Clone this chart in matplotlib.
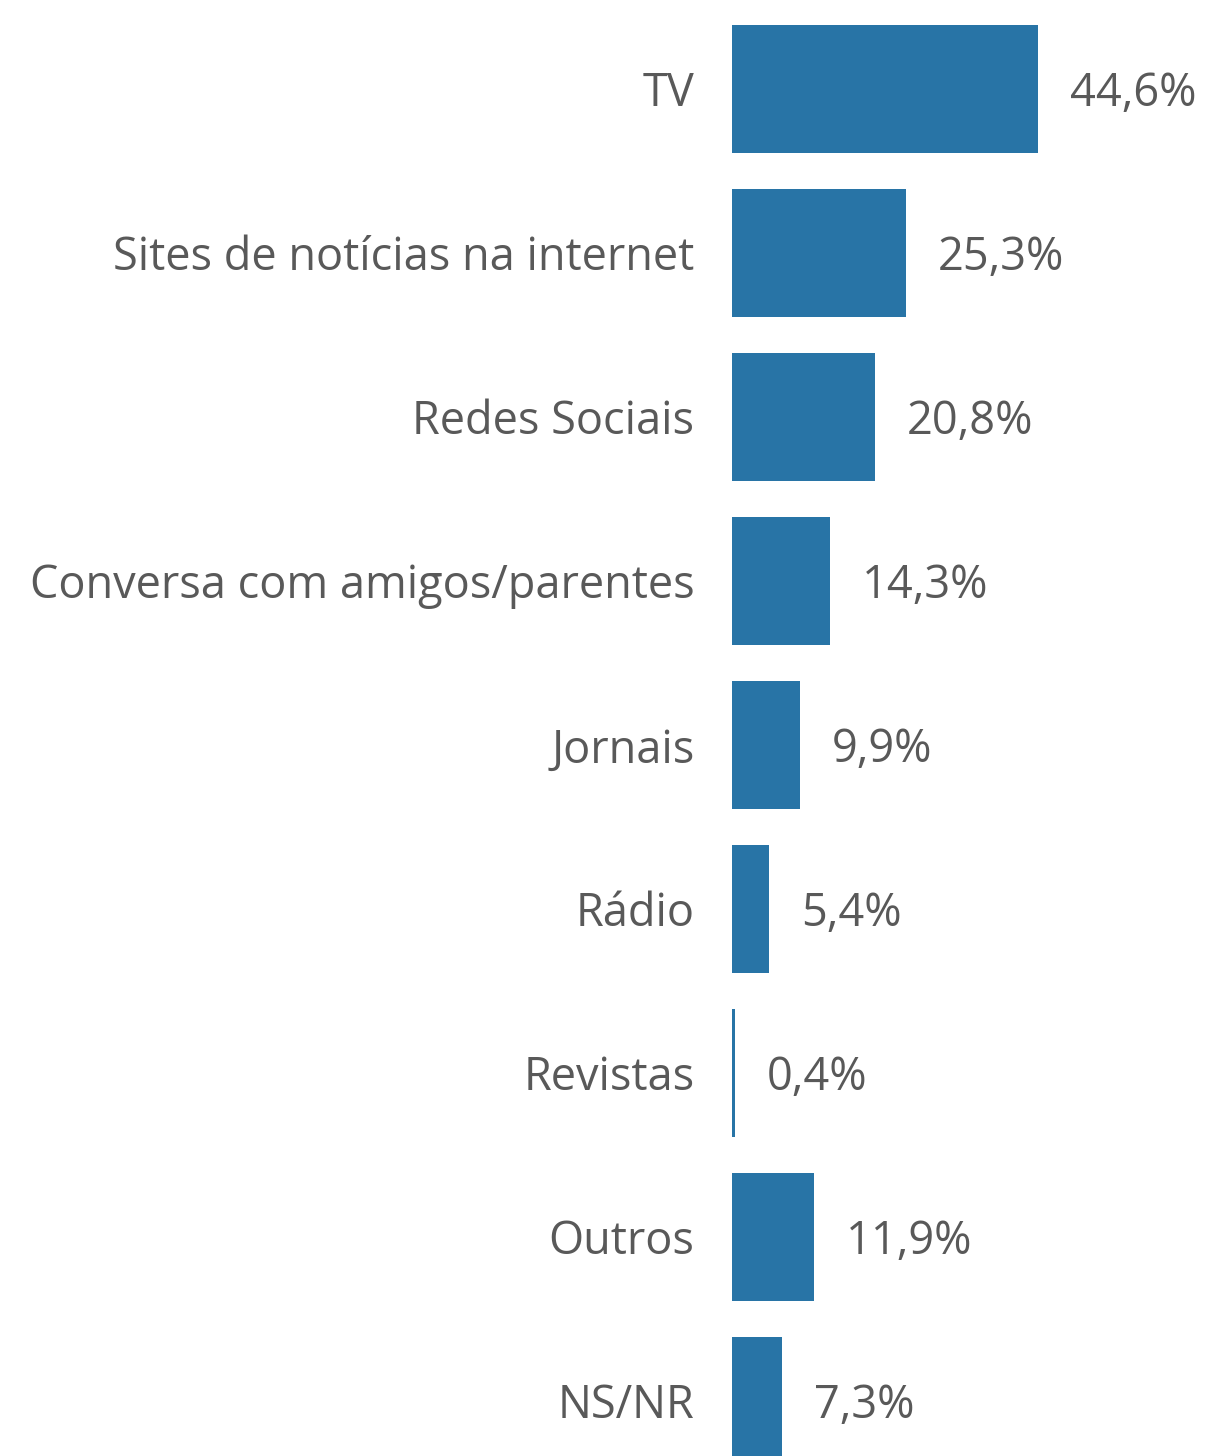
import matplotlib
matplotlib.use("Agg")
import matplotlib.pyplot as plt

categories = ["TV", "Sites de notícias na internet", "Redes Sociais",
              "Conversa com amigos/parentes", "Jornais", "Rádio",
              "Revistas", "Outros", "NS/NR"]
values = [44.6, 25.3, 20.8, 14.3, 9.9, 5.4, 0.4, 11.9, 7.3]
value_labels = ["44,6%", "25,3%", "20,8%", "14,3%", "9,9%", "5,4%", "0,4%", "11,9%", "7,3%"]

W, H, DPI = 1208, 1456, 100
fig = plt.figure(figsize=(W / DPI, H / DPI), dpi=DPI)
left_px = 732
ax = fig.add_axes([left_px / W, 0, 1 - left_px / W, 1])

px_per_unit = 306 / 44.6
ax.set_xlim(0, (W - left_px) / px_per_unit)
ax.set_ylim((H - 89) / 164, -89 / 164)

bar_color = "#2874A6"
text_color = "#595959"
fs = 32.5
family = ["Open Sans", "DejaVu Sans"]

y = list(range(len(categories)))
ax.barh(y, values, height=128 / 164, color=bar_color, align="center")

for yi, v, lab in zip(y, values, value_labels):
    ax.annotate(lab, (v, yi), xytext=(23, 0), textcoords="offset points",
                ha="left", va="center_baseline", fontsize=fs, color=text_color, family=family)

ax.set_yticks(y)
ax.set_yticklabels(categories, fontsize=fs, color=text_color, family=family)
ax.tick_params(axis="y", length=0, pad=27)
ax.set_xticks([])
for s in ax.spines.values():
    s.set_visible(False)

fig.savefig("out.png", dpi=DPI)
